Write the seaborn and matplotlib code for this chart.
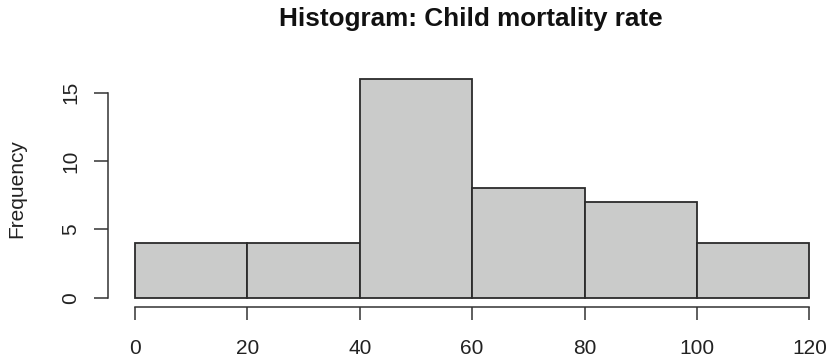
import numpy as np
import pandas as pd
import matplotlib
matplotlib.use("Agg")
import matplotlib.pyplot as plt
import seaborn as sns

# Histogram bins and counts of child mortality rate
bin_edges = [0, 20, 40, 60, 80, 100, 120]
bin_counts = [4, 4, 16, 8, 7, 4]
x_ticks = [0, 20, 40, 60, 80, 100, 120]
y_ticks = [0, 5, 10, 15]

mids = [(a + b) / 2 for a, b in zip(bin_edges[:-1], bin_edges[1:])]
df = pd.DataFrame({"rate": mids, "count": bin_counts})

sns.set_style("white")
plt.rcParams["font.family"] = ["Liberation Sans", "DejaVu Sans"]

fig = plt.figure(figsize=(8.28, 3.61), dpi=100)
ax = fig.add_axes([108 / 828, 1 - 306.7 / 361, (820 - 108) / 828, (306.7 - 70) / 361])

sns.histplot(data=df, x="rate", weights="count", bins=bin_edges, ax=ax,
             color="#cacbca", alpha=1.0, edgecolor="#2b2b2b", linewidth=1.3)

ax.set_xlim(-4.805, 121.9)
ax.set_ylim(-0.659, 16.66)

for side in ("top", "right"):
    ax.spines[side].set_visible(False)
ax.spines["bottom"].set_bounds(0, 120)
ax.spines["left"].set_bounds(0, 15)
for side in ("bottom", "left"):
    ax.spines[side].set_color("#333333")
    ax.spines[side].set_linewidth(1.1)

ax.set_xticks(x_ticks)
ax.set_yticks(y_ticks)
ax.tick_params(axis="both", which="major", direction="out", bottom=True, left=True,
               colors="#333333", width=1.1, labelsize=15, labelcolor="#222222")
ax.tick_params(axis="x", length=9.5, pad=13.5)
ax.tick_params(axis="y", length=10, pad=10)
for lbl in ax.get_yticklabels():
    lbl.set_rotation(90)
    lbl.set_va("center")

ax.set_xlabel("")
ax.set_ylabel("Frequency", fontsize=15, color="#222222", labelpad=25)

fig.text(471 / 828, 1 - 19 / 361, "Histogram: Child mortality rate",
         ha="center", va="center", fontsize=18.8, fontweight="bold", color="#111111")

fig.savefig("out.png", dpi=100)
